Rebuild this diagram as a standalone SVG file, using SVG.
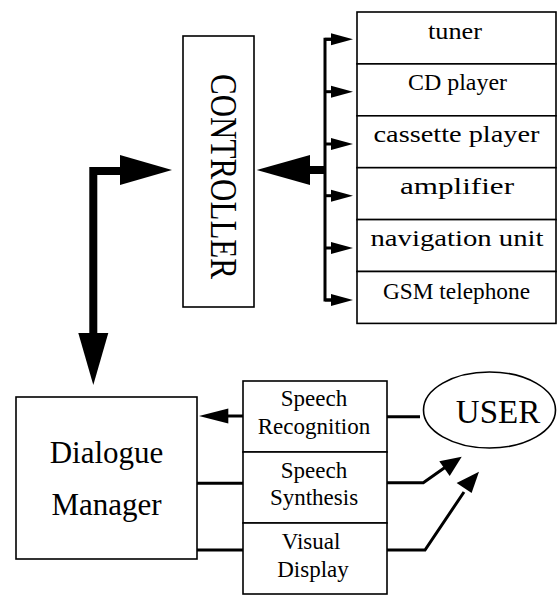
<svg xmlns="http://www.w3.org/2000/svg" width="557" height="595" viewBox="0 0 557 595">
  <style>
    .box { fill: #ffffff; stroke: #000000; stroke-width: 1.6; }
    .lbl { font-family: "Liberation Serif", "Times New Roman", serif; fill: #000000; text-anchor: middle; }
    .dev { font-size: 24px; }
    .io { font-size: 23px; }
    .big { font-size: 31px; }
    .thick { fill: none; stroke: #000000; stroke-width: 8; }
    .thin { fill: none; stroke: #000000; stroke-width: 3; }
    .bus { fill: none; stroke: #000000; stroke-width: 3; }
    .head { fill: #000000; stroke: none; }
  </style>
  <defs>
    <!-- small bus arrow pointing right, tip at origin -->
    <g id="tick">
      <line x1="-28" y1="0" x2="-20" y2="0" stroke="#000" stroke-width="3"/>
      <polygon points="0,0 -22,-6 -22,6" fill="#000"/>
    </g>
  </defs>

  <rect width="557" height="595" fill="#ffffff"/>

  <!-- controller -->
  <g id="controller">
    <rect class="box" x="183" y="36" width="71" height="271"/>
    <text class="lbl big" transform="translate(210.5,176.5) scale(1.2,1) rotate(90)" x="0" y="0">CONTROLLER</text>
  </g>

  <!-- audio / navigation devices -->
  <g id="tuner">
    <rect class="box" x="357" y="12" width="199" height="51.9"/>
    <text class="lbl dev" x="455" y="38.5" textLength="54" lengthAdjust="spacingAndGlyphs">tuner</text>
  </g>
  <g id="cd-player">
    <rect class="box" x="357" y="63.9" width="199" height="51.9"/>
    <text class="lbl dev" x="457.5" y="90.4" textLength="99" lengthAdjust="spacingAndGlyphs">CD player</text>
  </g>
  <g id="cassette-player">
    <rect class="box" x="357" y="115.8" width="199" height="51.9"/>
    <text class="lbl dev" x="456.5" y="142.3" textLength="166" lengthAdjust="spacingAndGlyphs">cassette player</text>
  </g>
  <g id="amplifier">
    <rect class="box" x="357" y="167.7" width="199" height="51.9"/>
    <text class="lbl dev" x="457" y="194.2" textLength="114" lengthAdjust="spacingAndGlyphs">amplifier</text>
  </g>
  <g id="navigation-unit">
    <rect class="box" x="357" y="219.6" width="199" height="51.9"/>
    <text class="lbl dev" x="457" y="246.1" textLength="173" lengthAdjust="spacingAndGlyphs">navigation unit</text>
  </g>
  <g id="gsm-telephone">
    <rect class="box" x="357" y="271.5" width="199" height="51.9"/>
    <text class="lbl dev" x="456.5" y="298.5" textLength="147" lengthAdjust="spacingAndGlyphs">GSM telephone</text>
  </g>

  <!-- dialogue manager -->
  <g id="dialogue-manager">
    <rect class="box" x="16" y="397" width="181" height="162"/>
    <text class="lbl big" x="106.5" y="462.5">Dialogue</text>
    <text class="lbl big" x="106.5" y="515">Manager</text>
  </g>

  <!-- speech / display modules -->
  <g id="speech-recognition">
    <rect class="box" x="243" y="381" width="144" height="71"/>
    <text class="lbl io" x="314" y="406">Speech</text>
    <text class="lbl io" x="314" y="433.5">Recognition</text>
  </g>
  <g id="speech-synthesis">
    <rect class="box" x="243" y="452" width="144" height="71"/>
    <text class="lbl io" x="314" y="478">Speech</text>
    <text class="lbl io" x="314" y="505">Synthesis</text>
  </g>
  <g id="visual-display">
    <rect class="box" x="243" y="523" width="144" height="71"/>
    <text class="lbl io" x="311" y="548.5">Visual</text>
    <text class="lbl io" x="313" y="576.5">Display</text>
  </g>

  <!-- user -->
  <g id="user">
    <ellipse class="box" cx="489.5" cy="410" rx="66" ry="38"/>
    <text class="lbl" style="font-size:33px" x="498" y="423.3">USER</text>
  </g>

  <!-- connectors -->
  <g id="connectors">
    <!-- dialogue manager <-> controller -->
    <polyline class="thick" points="93.3,336 93.3,171 122,171"/>
    <polygon class="head" points="172,170 120,155 120,185"/>
    <polygon class="head" points="93.3,385 78.3,333 108.3,333"/>

    <!-- device bus -> controller -->
    <line class="thick" x1="308" y1="170" x2="326" y2="170"/>
    <polygon class="head" points="256.7,170 310,155 310,185"/>
    <polyline class="bus" points="331,39.3 325,39.3 325,300 331,300"/>
    <use href="#tick" x="353" y="39.3"/>
    <use href="#tick" x="353" y="91.7"/>
    <use href="#tick" x="353" y="144"/>
    <use href="#tick" x="353" y="195.7"/>
    <use href="#tick" x="353" y="248"/>
    <use href="#tick" x="353" y="300"/>

    <!-- recognition -> dialogue manager -->
    <line class="thin" x1="226" y1="416" x2="243" y2="416"/>
    <polygon class="head" points="199,416 228.3,408.5 228.3,423.5"/>
    <!-- dialogue manager -> synthesis / display -->
    <line class="thin" x1="197" y1="483.3" x2="243" y2="483.3"/>
    <line class="thin" x1="197" y1="550" x2="243" y2="550"/>

    <!-- user -> recognition -->
    <line class="thin" x1="387" y1="416.7" x2="420" y2="416.7"/>
    <!-- synthesis -> user -->
    <polyline class="thin" points="387,482.7 423.3,482.7 447,466"/>
    <polygon class="head" points="461.7,456.7 439.3,461.3 449.7,476.1"/>
    <!-- display -> user -->
    <polyline class="thin" points="387,550 425,550 464,492"/>
    <polygon class="head" points="479,471.7 456.6,483 471.6,493"/>
  </g>
</svg>
